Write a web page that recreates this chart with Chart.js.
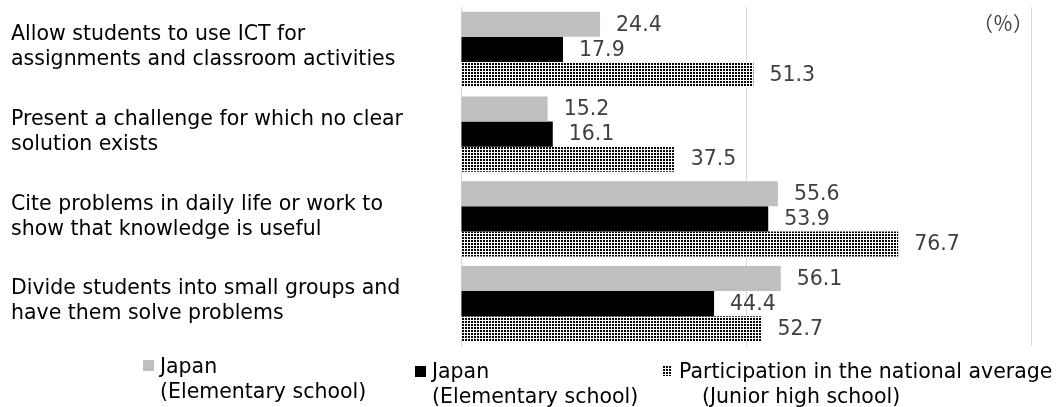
<!DOCTYPE html>
<html>
<head>
<meta charset="utf-8">
<script src="https://cdn.jsdelivr.net/npm/chart.js@4.4.0/dist/chart.umd.min.js"></script>
<style>
  body { margin: 0; background: #fff; }
  #wrap { width: 1056px; height: 407px; position: relative; }
</style>
</head>
<body>
<div id="wrap"><canvas id="barChart"></canvas></div>
<script>
const categories = [
  ['Allow students to use ICT for', 'assignments and classroom activities'],
  ['Present a challenge for which no clear', 'solution exists'],
  ['Cite problems in daily life or work to', 'show that knowledge is useful'],
  ['Divide students into small groups and', 'have them solve problems']
];
const seriesNames = [
  ['Japan', '(Elementary school)'],
  ['Japan', '(Elementary school)'],
  ['Participation in the national average', '(Junior high school)']
];
const elementaryA = [24.4, 15.2, 55.6, 56.1];
const elementaryB = [17.9, 16.1, 53.9, 44.4];
const juniorHigh = [51.3, 37.5, 76.7, 52.7];
const xTicks = [0, 50, 100];
const unitLabel = '（％）';

const FONT = "'DejaVu Sans', Verdana, sans-serif";
const FONT_SIZE = 20.5;
const LINE_H = 25;

//---------------dot pattern------------
function makeDots() {
  const c = document.createElement('canvas');
  c.width = 3;
  c.height = 3;
  const g = c.getContext('2d');
  g.fillStyle = '#fff';
  g.fillRect(0, 0, 3, 3);
  g.fillStyle = '#000';
  g.fillRect(0, 0, 2, 2);
  return g.createPattern(c, 'repeat');
}
const dots = makeDots();
const colors = ['#bfbfbf', '#000000', dots];

//---------------plugins------------
// category names, left aligned at the canvas edge, centred on each category
const categoryLabels = {
  id: 'categoryLabels',
  afterDraw(chart) {
    const ctx = chart.ctx;
    const yScale = chart.scales.y;
    ctx.save();
    ctx.font = FONT_SIZE + 'px ' + FONT;
    ctx.fillStyle = '#000';
    ctx.textAlign = 'left';
    ctx.textBaseline = 'middle';
    categories.forEach((lines, i) => {
      const mid = yScale.getPixelForValue(i);
      const y0 = mid - (lines.length - 1) * LINE_H / 2 - 2;
      lines.forEach((t, k) => {
        ctx.fillText(t, 11, y0 + k * LINE_H);
      });
    });
    ctx.restore();
  }
};

const valueLabels = {
  id: 'valueLabels',
  afterDatasetsDraw(chart) {
    const ctx = chart.ctx;
    ctx.save();
    ctx.font = FONT_SIZE + 'px ' + FONT;
    ctx.fillStyle = '#404040';
    ctx.textAlign = 'left';
    ctx.textBaseline = 'middle';
    chart.data.datasets.forEach((ds, i) => {
      chart.getDatasetMeta(i).data.forEach((bar, j) => {
        ctx.fillText(ds.data[j].toFixed(1), bar.x + 16, bar.y + 1);
      });
    });
    // unit
    ctx.font = "20px 'Noto Sans CJK JP', sans-serif";
    ctx.textAlign = 'right';
    ctx.fillText(unitLabel, chart.chartArea.right + 2, 23);
    ctx.restore();
  }
};

const legendSpots = [
  { box: [143, 360, 11], x: 160, y: 373, indent: 0 },
  { box: [415, 366, 11], x: 432, y: 378, indent: 0 },
  { box: [662, 366, 10], x: 679, y: 378, indent: 23 }
];

const bottomLegend = {
  id: 'bottomLegend',
  afterDraw(chart) {
    const ctx = chart.ctx;
    ctx.save();
    ctx.font = FONT_SIZE + 'px ' + FONT;
    ctx.textBaseline = 'alphabetic';
    ctx.textAlign = 'left';
    chart.data.datasets.forEach((ds, i) => {
      const s = legendSpots[i];
      ctx.fillStyle = ds.backgroundColor;
      ctx.fillRect(s.box[0], s.box[1], s.box[2], s.box[2]);
      ctx.fillStyle = '#000';
      ctx.fillText(seriesNames[i][0], s.x, s.y);
      ctx.fillText(seriesNames[i][1], s.x + s.indent, s.y + LINE_H);
    });
    ctx.restore();
  }
};

//---------------chart------------
const ctx = document.getElementById('barChart').getContext('2d');

const data = {
  labels: categories.map((c) => c.join(' ')),
  datasets: [elementaryA, elementaryB, juniorHigh].map((vals, i) => ({
    label: seriesNames[i].join(' '),
    data: vals,
    backgroundColor: colors[i],
    borderWidth: 0,
    categoryPercentage: 0.885,
    barPercentage: 1.0
  }))
};

const config = {
  type: 'bar',
  data: data,
  options: {
    indexAxis: 'y',
    responsive: true,
    maintainAspectRatio: false,
    animation: false,
    devicePixelRatio: 1,
    layout: {
      padding: { top: 7, right: 25, bottom: 61, left: 0 }
    },
    plugins: {
      legend: { display: false },
      tooltip: { enabled: false },
      title: { display: false }
    },
    scales: {
      x: {
        min: xTicks[0],
        max: xTicks[xTicks.length - 1],
        afterBuildTicks: (scale) => {
          scale.ticks = xTicks.map((v) => ({ value: v }));
        },
        ticks: { display: false },
        grid: { color: '#d9d9d9', lineWidth: 1, drawTicks: false },
        border: { display: false },
        afterFit: (scale) => { scale.height = 0; }
      },
      y: {
        grid: { display: false, drawTicks: false },
        border: { display: false },
        ticks: { display: false },
        afterFit: (scale) => { scale.width = 461; }
      }
    }
  },
  plugins: [valueLabels, categoryLabels, bottomLegend]
};

const myChart = new Chart(ctx, config);
</script>
</body>
</html>
